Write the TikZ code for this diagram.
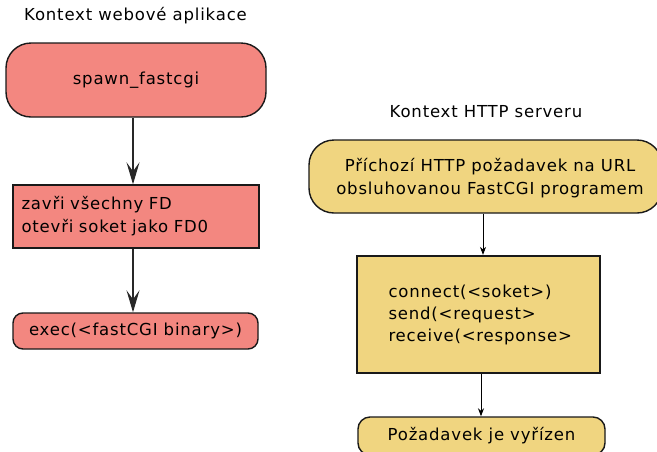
\documentclass[tikz,border=0pt]{standalone}
\usepackage{fontspec}
\setmainfont[LetterSpace=5]{DejaVu Sans}
\usetikzlibrary{arrows.meta}
\definecolor{boxred}{RGB}{243,135,128}
\definecolor{boxyellow}{RGB}{240,213,128}
\definecolor{linegray}{RGB}{40,40,40}
\tikzset{
  txt/.style={font=\fontsize{16.5}{23}\selectfont},
  redbox/.style={draw=black!90, line width=1.4pt, fill=boxred, inner sep=0pt, txt},
  yelbox/.style={draw=black!90, line width=1.4pt, fill=boxyellow, inner sep=0pt, txt},
  bigarrow/.style={draw=linegray, line width=1.2pt, -{Stealth[length=22pt,width=13pt,inset=9pt]}},
  smallarrow/.style={draw=black, line width=0.9pt, -{Stealth[length=8pt,width=6pt,inset=2.5pt]}},
  lbl/.style={txt, inner sep=0pt},
}
\begin{document}
\begin{tikzpicture}[x=1pt,y=-1pt]
\useasboundingbox (0,0) rectangle (657,451);
\fill[white] (0,0) rectangle (657,451);
% left column
\node[lbl] (t1) at (135.5,16) {Kontext webové aplikace};
\node[redbox, rounded corners=25pt, minimum width=260pt, minimum height=74pt] (spawn) at (136,80) {spawn\_fastcgi};
\node[redbox, minimum width=246pt, minimum height=63pt, text width=229pt, inner xsep=8.5pt, align=left] (close) at (136,216.5) {\raisebox{0pt}{zavři všechny FD}\\otevři soket jako FD0};
\node[redbox, rounded corners=10pt, minimum width=245pt, minimum height=36pt] (exec) at (135.5,331) {exec(<fastCGI binary>)};
\draw[bigarrow] ([xshift=-3pt]spawn.south) -- ([xshift=-3pt]close.north);
\draw[bigarrow] ([xshift=-3pt]close.south) -- ([xshift=-3pt]close.south |- exec.north);
% right column
\node[lbl] (t2) at (486,112) {Kontext HTTP serveru};
\node[yelbox, rounded corners=25pt, minimum width=353pt, minimum height=73pt] (prich) at (485.5,176.5) {};
\node[lbl, align=center] (prichtext) at (490,178) {Příchozí HTTP požadavek na URL\\obsluhovanou FastCGI programem};
\node[yelbox, line width=2.2pt, minimum width=243pt, minimum height=117pt, text width=212pt, inner xsep=0pt, align=left, font=\fontsize{16.5}{22}\selectfont] (conn) at (478.5,314.5) {\hspace*{16pt}connect(<soket>)\\\hspace*{16pt}send(<request>\\\hspace*{16pt}receive(<response>};
\node[yelbox, rounded corners=12pt, minimum width=247pt, minimum height=38pt] (done) at (481.5,436) {Požadavek je vyřízen};
\draw[smallarrow] ([xshift=-2.5pt]prich.south) -- ([xshift=-2.5pt]prich.south |- conn.north);
\draw[smallarrow] ([xshift=2.5pt]conn.south) -- ([xshift=2.5pt]conn.south |- done.north);
\end{tikzpicture}
\end{document}
